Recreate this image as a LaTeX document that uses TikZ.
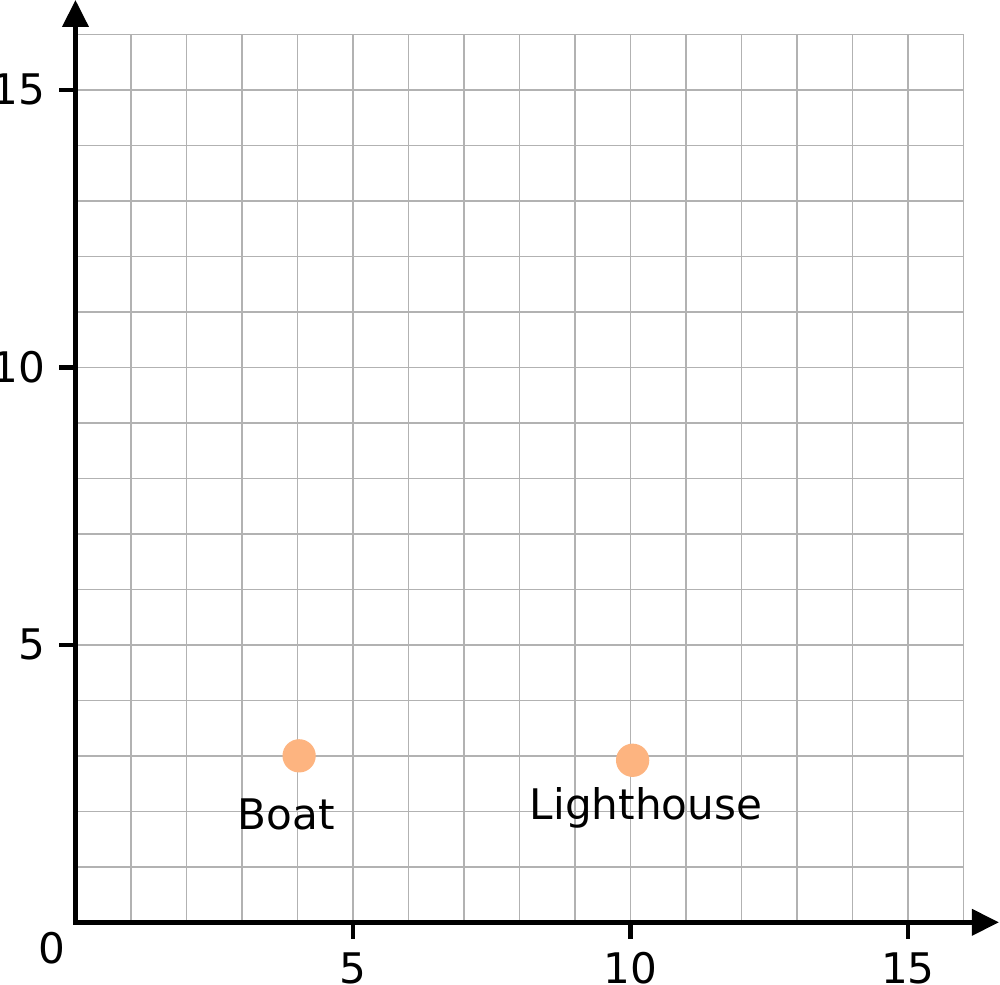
\documentclass[tikz,border=0pt]{standalone}
\usepackage{fontspec}
\setmainfont{DejaVu Sans}
\usetikzlibrary{arrows.meta}
\definecolor{peach}{RGB}{253,180,128}
\begin{document}
\begin{tikzpicture}[x=.5cm,y=.5cm,font=\fontsize{10.8}{13}\selectfont]
  \useasboundingbox (-1.36,-1.126) rectangle (16.66,16.62);
  \draw[gray!60,line width=.35pt,step=.5cm] (0,0) grid (16,16);
  \draw[line width=1.15pt,line join=miter,{Triangle[length=6.9pt,width=6.6pt]}-{Triangle[length=6.9pt,width=6.6pt]}]
    (0,16.62)--(0,0)--(16.64,0);
  \foreach \y in {5,10,15} \draw[line width=1.15pt] (0,\y)--(-.3,\y)
    node[anchor=east,inner sep=0pt,xshift=-.1cm] (ylab\y) {\y};
  \foreach \x in {5,10,15} \draw[line width=1.15pt] (\x,0)--(\x,-.3)
    node[anchor=north,inner sep=0pt,yshift=-.1cm] (xlab\x) {\x};
  \node[anchor=north,inner sep=0pt] (zero) at (-.43,-.17) {0};
  \node[circle,fill=peach,inner sep=0pt,minimum size=.3cm] (boat) at (4.03,3) {};
  \node[circle,fill=peach,inner sep=0pt,minimum size=.3cm] (lighthouse) at (10.04,2.92) {};
  \node[anchor=base,inner sep=0pt] (boatlabel) at (3.8,1.67) {Boat};
  \node[anchor=base,inner sep=0pt] (lighthouselabel) at (10.28,1.86) {Lighthouse};
\end{tikzpicture}
\end{document}
